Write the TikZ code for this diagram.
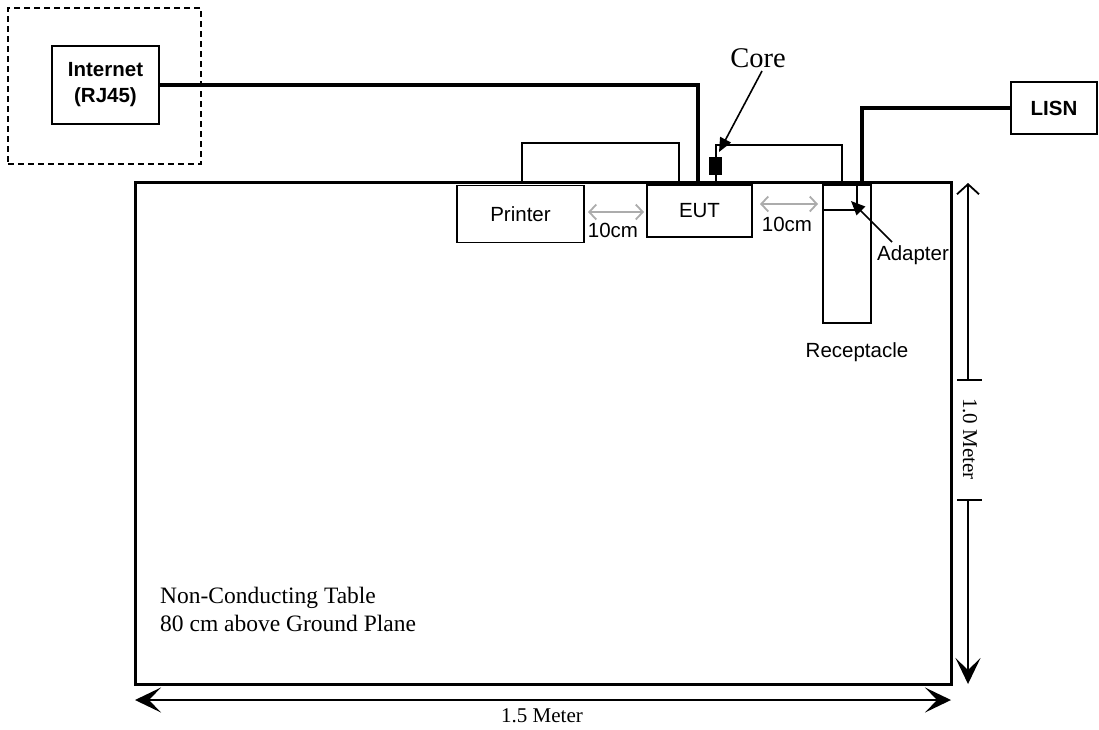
\documentclass[tikz,border=0pt]{standalone}
\usepackage{fontspec}
\setmainfont{Liberation Serif}
\setsansfont{Liberation Sans}
\usetikzlibrary{arrows.meta}
\begin{document}
\begin{tikzpicture}[x=1pt,y=-1pt,
  sfont/.style={font=\sffamily\fontsize{20.5}{24}\selectfont},
  box/.style={draw, line width=1.6pt, inner sep=0pt, sfont},
  heavy/.style={line width=3.5pt},
  light/.style={line width=1.6pt},
  gaparrow/.style={draw=gray!65, line width=1.8pt, {Straight Barb[length=7pt,width=15pt]}-{Straight Barb[length=7pt,width=15pt]}},
  dim/.style={line width=1.6pt},
  bigtip/.style={Stealth[length=26pt,width=25pt,inset=12pt]},
  ptr/.style={line width=1.6pt, -{Triangle[length=14pt,width=12pt]}},
  lbl/.style={inner sep=0pt}]
\useasboundingbox (0,0) rectangle (1099,729);

% frames and boxes
\node[draw, dashed, dash pattern=on 6pt off 4pt, line width=1.5pt, minimum width=193pt, minimum height=156pt] (dash) at (104.5,86) {};
\node[box, minimum width=107pt, minimum height=78pt, align=center, font=\sffamily\bfseries\fontsize{20.5}{26}\selectfont] (inet) at (105.5,85) {Internet\\(RJ45)};
\node[draw, line width=3pt, minimum width=816pt, minimum height=502pt] (tab) at (543,433) {};
\node[box, minimum width=127pt, minimum height=57pt] (prn) at (520.5,214) {Printer};
\node[box, minimum width=105pt, minimum height=52pt] (eut) at (699.5,211) {EUT};
\node[box, minimum width=48pt, minimum height=138pt] (rec) at (847,254) {};
\node[box, minimum width=34pt, minimum height=25pt] (adp) at (840,197.5) {};
\node[box, minimum width=86pt, minimum height=52pt, font=\sffamily\bfseries\fontsize{20.5}{24}\selectfont] (lisn) at (1054,108) {LISN};

% cable end points on the table edge
\coordinate (inetend) at (698,182);
\coordinate (pa) at (522,182);
\coordinate (pb) at (679,182);
\coordinate (ca) at (716,182);
\coordinate (cb) at (842,182);
\coordinate (lisnend) at (862,182);

% cables
\draw[heavy] (inet.east) -| (inetend);
\draw[light] (pa) -- (522,143) -| (pb);
\draw[light] (ca) -- (716,145) -| (cb);
\draw[heavy] (lisn.west) -| (lisnend);

% core
\node[fill=black, minimum width=13pt, minimum height=18pt, inner sep=0pt] (core) at (715.5,166) {};
\node[lbl, font=\fontsize{28.5}{32}\selectfont] (corelbl) at (758,58) {Core};
\coordinate (cs) at (762,71);
\coordinate (ct) at (719,152);
\draw[ptr] (cs) -- (ct);

% spacing arrows
\coordinate (g1a) at (588,212);
\coordinate (g1b) at (644,212);
\coordinate (g2a) at (760,204);
\coordinate (g2b) at (818,204);
\draw[gaparrow] (g1a) -- (g1b);
\draw[gaparrow] (g2a) -- (g2b);
\node[lbl, sfont] (g1) at (613,230) {10cm};
\node[lbl, sfont] (g2) at (787,224) {10cm};

% adapter / receptacle labels
\node[lbl, sfont] (adlbl) at (913,255) {Adapter};
\coordinate (as) at (892,242);
\coordinate (at) at (851,201);
\draw[ptr] (as) -- (at);
\node[lbl, sfont] (reclbl) at (857,352) {Receptacle};

% table text
\node[lbl, anchor=north west, align=left, font=\fontsize{23.5}{28}\selectfont] (tabtxt) at (160,587) {Non-Conducting Table\\80 cm above Ground Plane};

% dimensions
\coordinate (hl) at (135,700);
\coordinate (hr) at (951,700);
\draw[dim, {Stealth[length=26pt,width=25pt,inset=12pt]}-{Stealth[length=26pt,width=25pt,inset=12pt]}] (hl) -- (hr);
\node[lbl, font=\fontsize{21}{24}\selectfont] (hlbl) at (542,716) {1.5 Meter};

\coordinate (vt) at (968,183);
\coordinate (vb) at (968,684);
\coordinate (t1) at (968,380);
\coordinate (t2) at (968,500);
\draw[dim, {Straight Barb[length=10pt,width=22pt,line width=1.8pt]}-] (vt) -- (t1);
\draw[dim, -{Stealth[length=26pt,width=25pt,inset=12pt]}] (t2) -- (vb);
\draw[dim] ([xshift=-11pt]t1) -- ([xshift=14pt]t1);
\draw[dim] ([xshift=-11pt]t2) -- ([xshift=14pt]t2);
\node[lbl, rotate=-90, font=\fontsize{21}{24}\selectfont] (vlbl) at (970,439) {1.0 Meter};
\end{tikzpicture}
\end{document}
